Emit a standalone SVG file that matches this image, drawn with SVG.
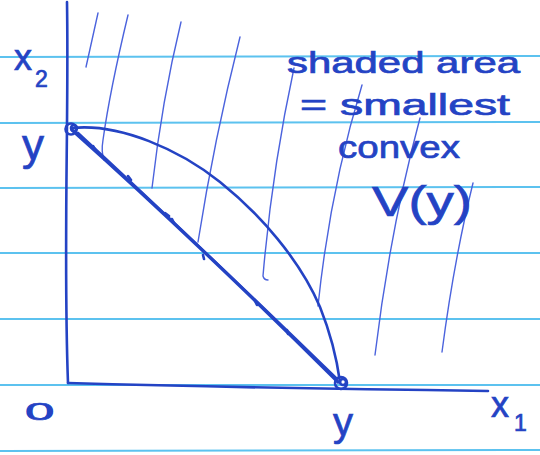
<svg xmlns="http://www.w3.org/2000/svg" width="540" height="455" viewBox="0 0 540 455">
<style>
.rule{stroke:#5cc2ef;stroke-width:2;fill:none}
.ink{stroke:#2443c4;stroke-width:2.6;fill:none;stroke-linecap:round;stroke-linejoin:round}
.thick{stroke:#2443c4;stroke-width:3.2;fill:none;stroke-linecap:round}
.hatch{stroke:#4b63dd;stroke-width:1.4;fill:none;stroke-linecap:round}
.hw{font-family:"Liberation Sans","DejaVu Sans",sans-serif;fill:#2443c4;stroke:#2443c4;stroke-width:0.7}
</style>
<rect width="540" height="455" fill="#ffffff"/>
<g id="paper">
<line class="rule" x1="0" y1="57" x2="540" y2="56"/>
<line class="rule" x1="0" y1="123" x2="540" y2="122"/>
<line class="rule" x1="0" y1="188" x2="540" y2="187"/>
<line class="rule" x1="0" y1="253" x2="540" y2="253"/>
<line class="rule" x1="0" y1="319" x2="540" y2="319"/>
<line class="rule" x1="0" y1="385" x2="540" y2="385"/>
<line class="rule" x1="0" y1="451" x2="540" y2="450"/>
</g>
<g id="hatching">
<path class="hatch" d="M98,13 Q92,40 86,67"/>
<path class="hatch" d="M128,15 Q110,90 103,140 Q101,152 104,160"/>
<path class="hatch" d="M181,22 Q162,100 152,188"/>
<path class="hatch" d="M240,37 Q214,140 198,242"/>
<path class="hatch" d="M294,68 Q272,170 263,276 Q264,280 268,280"/>
<path class="hatch" d="M362,85 Q330,190 318,306"/>
<path class="hatch" d="M420,118 Q390,230 375,355"/>
<path class="hatch" d="M473,183 Q454,260 442,352"/>
</g>
<g id="connectors">
<path id="x2-axis" class="ink" d="M67,2 C69,120 63,250 68,383"/>
<path id="x1-axis" class="ink" d="M68,383 Q250,388 488,391"/>
<path id="chord" class="thick" d="M72,130 Q195,240 338,382"/>
<path class="ink" stroke-width="1.6" d="M78,133 Q198,244 336,378"/>
<path class="ink" stroke-width="1.6" d="M93,146 l3,5 M128,176 l3,4 M165,213 l4,3 M172,219 l2,4 M203,255 l1,4 M255,301 l2,4 M287,330 l1,4"/>
<path id="upper-curve" class="ink" d="M72,128 C120,123 180,150 220,182 C260,214 300,260 320,307 C330,332 337,360 340,382"/>
</g>
<g id="point-y-on-x2">
<circle class="ink" cx="71" cy="129" r="5.5"/>
<circle class="ink" stroke-width="1.6" cx="74" cy="128" r="3"/>
</g>
<g id="point-y-on-x1">
<circle class="ink" cx="341" cy="383" r="6"/>
<circle class="ink" stroke-width="1.6" cx="343" cy="382" r="3"/>
</g>
<g id="label-x2">
<text class="hw" x="14" y="70" font-size="36">x</text>
<text class="hw" x="35" y="87" font-size="23">2</text>
</g>
<g id="label-y-left">
<text class="hw" x="22" y="160" font-size="44">y</text>
</g>
<g id="label-origin">
<text class="hw" font-size="24" transform="translate(25,420) scale(2.2,1)" stroke-width="0.5">0</text>
</g>
<g id="label-y-bottom">
<text class="hw" x="333" y="436" font-size="40">y</text>
</g>
<g id="label-x1">
<text class="hw" x="491" y="417" font-size="36">x</text>
<text class="hw" x="514" y="431" font-size="23">1</text>
</g>
<g id="annotation">
<text class="hw" x="287" y="73" font-size="30" textLength="233" lengthAdjust="spacingAndGlyphs">shaded area</text>
<text class="hw" x="300" y="115" font-size="30" textLength="210" lengthAdjust="spacingAndGlyphs">= smallest</text>
<text class="hw" x="338" y="158" font-size="32" textLength="122" lengthAdjust="spacingAndGlyphs">convex</text>
<text class="hw" x="372" y="216" font-size="42" textLength="100" lengthAdjust="spacingAndGlyphs">V(y)</text>
</g>
</svg>
